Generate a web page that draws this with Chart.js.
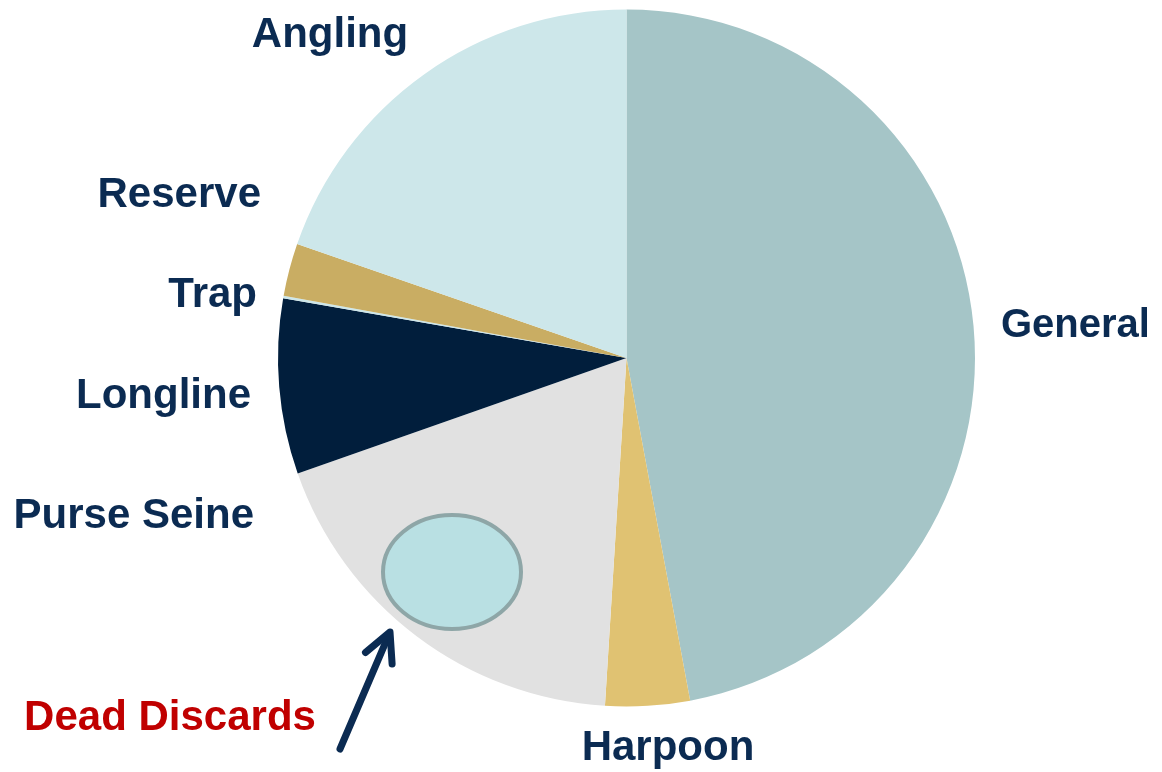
<!DOCTYPE html>
<html>
<head>
<meta charset="utf-8">
<script src="https://cdn.jsdelivr.net/npm/chart.js@4.4.0/dist/chart.umd.min.js"></script>
<style>
html,body{margin:0;padding:0;background:#fff;}
#wrap{position:relative;width:1162px;height:772px;}
</style>
</head>
<body>
<div id="wrap"><canvas id="c"></canvas></div>
<script>
const categories = ["General", "Harpoon", "Purse Seine", "Longline", "Reserve", "Trap", "Angling"];
const shares = [47.08, 3.91, 18.64, 8.12, 0.12, 2.44, 19.70];
const sliceColors = ["#a5c5c7", "#e0c272", "#e1e1e1", "#011e3c", "#cde7ea", "#c9ad63", "#cde7ea"];

// label layout (text, anchor x, baseline y, alignment, size, colour)
const labelLayout = [
  {t: "Angling", x: 330, y: 47, a: "center", s: 42, c: "#0b2b52"},
  {t: "Reserve", x: 261, y: 207, a: "right", s: 42, c: "#0b2b52"},
  {t: "Trap", x: 257, y: 307, a: "right", s: 42, c: "#0b2b52"},
  {t: "Longline", x: 251, y: 408, a: "right", s: 42, c: "#0b2b52"},
  {t: "Purse Seine", x: 254, y: 528, a: "right", s: 42, c: "#0b2b52"},
  {t: "General", x: 1001, y: 337, a: "left", s: 40, c: "#0b2b52"},
  {t: "Harpoon", x: 668, y: 760, a: "center", s: 42, c: "#0b2b52"},
  {t: "Dead Discards", x: 170, y: 730, a: "center", s: 42, c: "#c00000"}
];

const annotations = {
  id: "annotations",
  afterDraw(chart) {
    const ctx = chart.ctx;
    ctx.save();
    // Dead discards ellipse
    ctx.beginPath();
    ctx.ellipse(452, 572, 69, 57, 0, 0, Math.PI * 2);
    ctx.fillStyle = "#b9e0e3";
    ctx.fill();
    ctx.lineWidth = 4;
    ctx.strokeStyle = "#8ea6a7";
    ctx.stroke();
    // arrow
    const x0 = 340, y0 = 749, x1 = 390, y1 = 632;
    const ang = Math.atan2(y1 - y0, x1 - x0);
    ctx.strokeStyle = "#0b2b52";
    ctx.lineWidth = 7;
    ctx.lineCap = "round";
    ctx.lineJoin = "round";
    ctx.beginPath();
    ctx.moveTo(x0, y0);
    ctx.lineTo(x1 - 3 * Math.cos(ang), y1 - 3 * Math.sin(ang));
    ctx.stroke();
    const hl = 32, hw = 0.47;
    ctx.beginPath();
    ctx.moveTo(x1 - hl * Math.cos(ang - hw), y1 - hl * Math.sin(ang - hw));
    ctx.lineTo(x1, y1);
    ctx.lineTo(x1 - hl * Math.cos(ang + hw), y1 - hl * Math.sin(ang + hw));
    ctx.stroke();
    // labels
    ctx.textBaseline = "alphabetic";
    labelLayout.forEach(l => {
      ctx.font = "bold " + l.s + "px 'Liberation Sans', Arial, sans-serif";
      ctx.fillStyle = l.c;
      ctx.textAlign = l.a;
      ctx.fillText(l.t, l.x, l.y);
    });
    ctx.restore();
  }
};

new Chart(document.getElementById("c"), {
  type: "pie",
  data: {
    labels: categories,
    datasets: [{
      data: shares,
      backgroundColor: sliceColors,
      borderWidth: 0
    }]
  },
  options: {
    responsive: true,
    maintainAspectRatio: false,
    animation: false,
    layout: {padding: {left: 278, right: 187, top: 9.5, bottom: 65.5}},
    plugins: {legend: {display: false}, tooltip: {enabled: false}}
  },
  plugins: [annotations]
});
</script>
</body>
</html>
